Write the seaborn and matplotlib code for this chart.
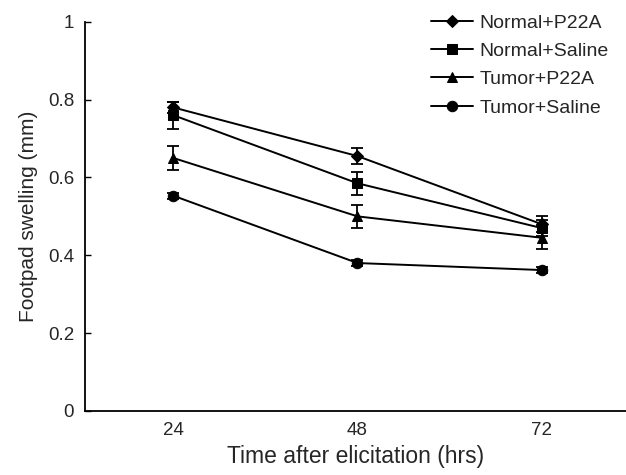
import matplotlib
matplotlib.use("Agg")
import matplotlib.pyplot as plt
import seaborn as sns
import pandas as pd

sns.set_theme(style="white")
plt.rcParams['font.family'] = ['Liberation Sans', 'DejaVu Sans']

times = [24, 48, 72]
groups = ["Normal+P22A", "Normal+Saline", "Tumor+P22A", "Tumor+Saline"]
normal_p22a = [0.78, 0.655, 0.48]
normal_saline = [0.76, 0.585, 0.47]
tumor_p22a = [0.65, 0.50, 0.445]
tumor_saline = [0.553, 0.38, 0.362]
err_normal_p22a = [0.015, 0.02, 0.02]
err_normal_saline = [0.035, 0.03, 0.02]
err_tumor_p22a = [0.03, 0.03, 0.03]
err_tumor_saline = [0.008, 0.008, 0.008]

values = [normal_p22a, normal_saline, tumor_p22a, tumor_saline]
errors = [err_normal_p22a, err_normal_saline, err_tumor_p22a, err_tumor_saline]
markers = ["D", "s", "^", "o"]
msizes = [6.5, 7.5, 7.5, 7.5]

rows = []
for g, v, e in zip(groups, values, errors):
    for t, y, er in zip(times, v, e):
        rows.append({"time": t, "swelling": y, "err": er, "group": g})
df = pd.DataFrame(rows)

fig = plt.figure(figsize=(6.26, 4.75), dpi=100)
ax = fig.add_axes([0.136, 0.135, 0.864, 0.819])

for g, m, ms in zip(groups, markers, msizes):
    sub = df[df.group == g]
    ax.errorbar(sub.time, sub.swelling, yerr=sub.err, fmt="none",
                ecolor="black", elinewidth=1.3, capsize=4, capthick=1.3, zorder=2)
    sns.lineplot(data=sub, x="time", y="swelling", ax=ax, color="black",
                 marker=m, markersize=ms, markeredgecolor="black",
                 linewidth=1.4, label=g, zorder=3)

ax.set_xlim(12.5, 83)
ax.set_ylim(0, 1)
ax.set_xticks(times)
ax.set_xticklabels([str(t) for t in times], fontsize=13.5)
ax.set_yticks([0, 0.2, 0.4, 0.6, 0.8, 1])
ax.set_yticklabels(["0", "0.2", "0.4", "0.6", "0.8", "1"], fontsize=13.5)
ax.tick_params(axis="x", length=0, pad=8)
ax.tick_params(axis="y", direction="in", length=4, width=1, color="black", pad=8, left=True)
for s in ["top", "right"]:
    ax.spines[s].set_visible(False)
for s in ["left", "bottom"]:
    ax.spines[s].set_color("black")
    ax.spines[s].set_linewidth(1.3)

ax.set_xlabel("Time after elicitation (hrs)", fontsize=16.5, labelpad=4)
ax.set_ylabel("Footpad swelling (mm)", fontsize=15, labelpad=7)

leg = ax.legend(loc="upper right", bbox_to_anchor=(1.0, 1.065), frameon=False,
                fontsize=14, handlelength=2.2, labelspacing=0.55, handletextpad=0.3)

fig.savefig("out.png", dpi=100)
